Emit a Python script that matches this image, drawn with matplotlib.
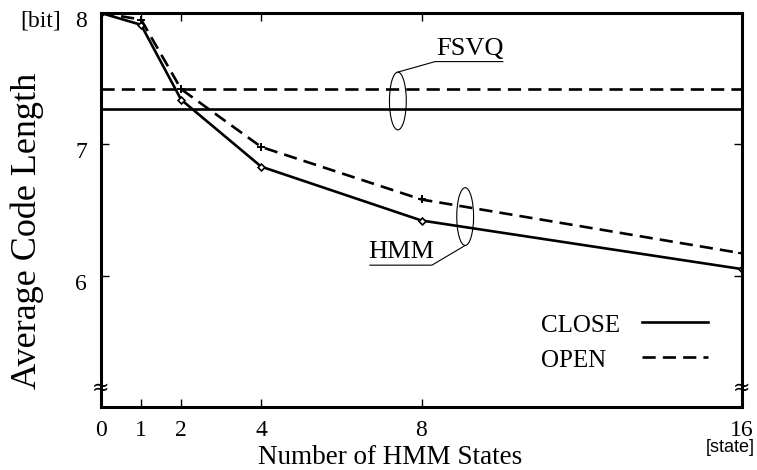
import numpy as np
import matplotlib.pyplot as plt
import matplotlib.transforms as mtransforms
from matplotlib.patches import Ellipse
from matplotlib.lines import Line2D

plt.rcParams['font.family'] = ['Liberation Serif', 'DejaVu Serif']

# data
states = [0, 1, 2, 4, 8, 16]
close_len = [8.0, 7.91, 7.34, 6.83, 6.42, 6.05]
open_len = [8.0, 7.95, 7.42, 6.98, 6.58, 6.17]
fsvq_close = 7.27
fsvq_open = 7.42

xticks = [0, 1, 2, 4, 8, 16]
yticks = [6, 7, 8]

fig = plt.figure(figsize=(7.57, 4.70), dpi=100)
ax = fig.add_axes([101 / 757, 1 - 407 / 470, 641 / 757, 394 / 470])

lw = 1.9
dash = (5, 2.7)
ax.plot(states, close_len, 'k-', lw=lw, marker='D', ms=3.5, mfc='white', mew=1.2)
ax.plot(states, open_len, 'k--', lw=lw, dashes=dash, marker='+', ms=6, mew=1.4)
ax.axhline(fsvq_close, color='k', lw=lw)
ax.axhline(fsvq_open, color='k', lw=lw, ls='--', dashes=dash)

ax.set_xlim(0, 16)
ax.set_ylim(5.0, 8.0)
ax.set_xticks(xticks)
ax.set_yticks(yticks)
ax.tick_params(direction='in', length=6, width=1, top=True, right=True,
               labelsize=17, pad=9)
ax.tick_params(axis='y', pad=10)
for s in ax.spines.values():
    s.set_linewidth(2.2)

# y tick labels sit a bit below their ticks in the original
shift = mtransforms.ScaledTranslation(0, -6 / 100, fig.dpi_scale_trans)
for lab in ax.get_yticklabels():
    lab.set_transform(lab.get_transform() + shift)

# axis break marks
for xa in (0, 1):
    ax.text(xa, 0.05, '\u2248', transform=ax.transAxes, ha='center', va='center',
            fontsize=15, family='DejaVu Sans', clip_on=False)

# annotations
ax.add_patch(Ellipse((7.41, 7.33), 0.42, 0.44, fill=False, lw=0.8, color='k'))
ax.plot([7.41, 8.34, 10.03], [7.55, 7.63, 7.63], 'k-', lw=0.8)
ax.text(9.2, 7.645, 'FSVQ', ha='center', va='bottom', fontsize=19)

ax.add_patch(Ellipse((9.09, 6.45), 0.42, 0.44, fill=False, lw=0.8, color='k'))
ax.plot([9.09, 8.26, 6.71], [6.23, 6.08, 6.08], 'k-', lw=0.8)
ax.text(7.49, 6.095, 'HMM', ha='center', va='bottom', fontsize=19)

# legend
ax.text(10.98, 5.62, 'CLOSE', ha='left', va='center', fontsize=18)
ax.text(10.98, 5.35, 'OPEN', ha='left', va='center', fontsize=18)
ax.add_line(Line2D([13.5, 15.15], [5.65, 5.65], color='k', lw=lw))
ax.add_line(Line2D([13.5, 15.15], [5.38, 5.38], color='k', lw=lw, ls='--', dashes=dash))

fig.text(258 / 757, 1 - 464 / 470, 'Number of HMM States', ha='left', va='baseline', fontsize=19.5)
fig.text(27 / 757, 1 - 231 / 470, 'Average Code Length', ha='center', va='center',
         rotation=90, fontsize=26)
fig.text(41 / 757, 1 - 21 / 470, '[bit]', ha='center', va='center', fontsize=17)
fig.text(755 / 757, 1 - 447 / 470, '[state]', ha='right', va='center', fontsize=13,
         family='Liberation Sans')

fig.savefig('out.png', dpi=100)
